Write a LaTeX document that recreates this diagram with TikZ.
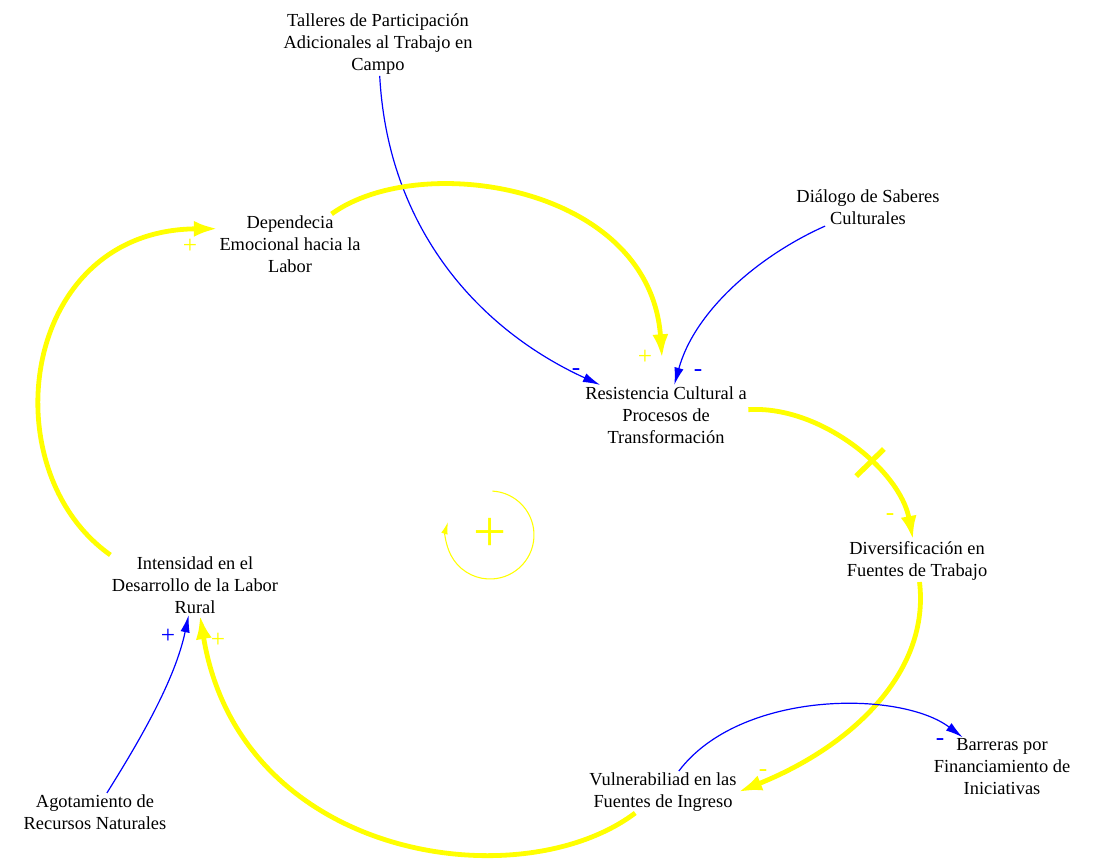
\documentclass[tikz,border=0pt]{standalone}
\usepackage{fontspec}
\setmainfont{Liberation Serif}
\usetikzlibrary{arrows.meta}
\definecolor{loopyellow}{HTML}{FFFF00}
\definecolor{linkblue}{HTML}{0000FF}

\begin{document}
\begin{tikzpicture}[x=0.75pt,y=-0.75pt]
\tikzstyle{varbox} = [align=center, inner sep=1pt, text=black, font=\fontsize{13.8}{16.5}\selectfont]
\tikzstyle{thinlink} = [linkblue, line width=0.9pt, -{Latex[length=13pt,width=7pt]}]
\tikzstyle{thicklink} = [loopyellow, line width=3.6pt, -{Latex[length=18pt,width=12pt]}]
\tikzstyle{polarity} = [inner sep=0pt, font=\fontsize{19}{19}\selectfont]
\tikzstyle{delaymark} = [fill=loopyellow, inner sep=0pt, minimum width=4pt, minimum height=29pt]

\useasboundingbox (0,0) rectangle (1103,858);

\node (talleres) [varbox] at (378,44) {Talleres de Participación\\Adicionales al Trabajo en\\Campo};
\node (dependecia) [varbox] at (290,244) {Dependecia\\Emocional hacia la\\Labor};
\node (dialogo) [varbox] at (868,207) {Diálogo de Saberes\\Culturales};
\node (resistencia) [varbox] at (666,415) {Resistencia Cultural a\\Procesos de\\Transformación};
\node (diversificacion) [varbox] at (917,561) {Diversificación en\\Fuentes de Trabajo};
\node (intensidad) [varbox] at (195,585) {Intensidad en el\\Desarrollo de la Labor\\Rural};
\node (barreras) [varbox] at (1002,767) {Barreras por\\Financiamiento de\\Iniciativas};
\node (vulnerabilidad) [varbox] at (663,792) {Vulnerabiliad en las\\Fuentes de Ingreso};
\node (agotamiento) [varbox] at (95,812) {Agotamiento de\\Recursos Naturales};

% links
\draw [thinlink] (talleres) .. controls (388,230) and (480,330) .. (resistencia);
\draw [thinlink] (dialogo) .. controls (760,255) and (695,310) .. (resistencia);
\draw [thicklink, shorten >=20pt] (dependecia) .. controls (420,150) and (650,185) .. (resistencia);
\draw [thicklink] (resistencia) .. controls (820,405) and (900,470) .. (diversificacion) node[delaymark, pos=0.6, sloped] {};
\draw [thicklink] (diversificacion) .. controls (930,670) and (855,745) .. (vulnerabilidad.east);
\draw [thinlink] (vulnerabilidad) .. controls (740,690) and (900,690) .. (barreras);
\draw [thicklink] (vulnerabilidad) .. controls (520,900) and (240,860) .. (intensidad);
\draw [thinlink] (agotamiento) .. controls (140,740) and (175,680) .. (intensidad);
\draw [thicklink] (intensidad.north west) .. controls (-10,470) and (20,230) .. (dependecia.168);

% polarities
\node (pol1) [polarity, linkblue] at (576,372) {-};
\node (pol2) [polarity, linkblue] at (698,373) {-};
\node (pol3) [polarity, loopyellow] at (645,357) {+};
\node (pol4) [polarity, loopyellow] at (890,517) {-};
\node (pol5) [polarity, loopyellow] at (763,773) {-};
\node (pol6) [polarity, linkblue] at (940,742) {-};
\node (pol7) [polarity, loopyellow] at (218,640) {+};
\node (pol8) [polarity, linkblue] at (168,636) {+};
\node (pol9) [polarity, loopyellow] at (190,246) {+};

% loop
\draw [loopyellow, line width=0.8pt, -{Latex[length=9pt,width=5pt]}] (490,535) ++(87:33pt) arc[start angle=87, end angle=-197, radius=33pt];
\node (loopsign) [loopyellow, inner sep=0pt, font=\fontsize{44}{44}\selectfont] at (490,535) {+};

\end{tikzpicture}
\end{document}
